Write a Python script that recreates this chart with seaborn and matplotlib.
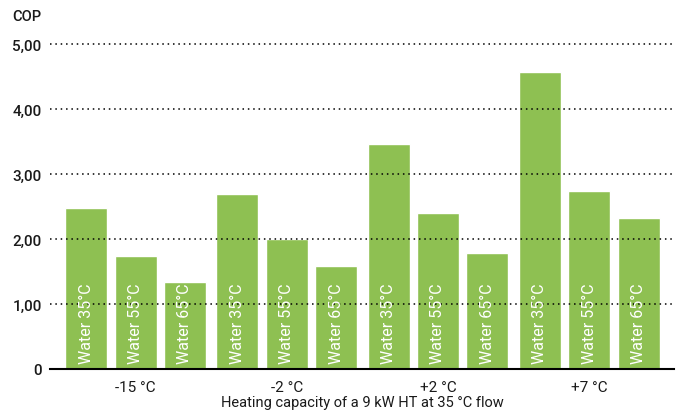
import matplotlib
matplotlib.use('Agg')
import matplotlib.pyplot as plt
import seaborn as sns
import pandas as pd

# outdoor temperatures (x groups) and water flow temperatures (hue)
temps = ['-15 °C', '-2 °C', '+2 °C', '+7 °C']
water = ['Water 35°C', 'Water 55°C', 'Water 65°C']
cop_35 = [2.48, 2.69, 3.46, 4.57]
cop_55 = [1.74, 2.00, 2.40, 2.74]
cop_65 = [1.34, 1.58, 1.78, 2.32]
y_ticks = [0, 1, 2, 3, 4, 5]
y_labels = ['0', '1,00', '2,00', '3,00', '4,00', '5,00']

bar_color = '#8EC052'
text_color = '#1a1a1a'

df = pd.DataFrame({
    'temp': temps * 3,
    'water': [water[0]] * 4 + [water[1]] * 4 + [water[2]] * 4,
    'cop': cop_35 + cop_55 + cop_65,
})

sns.set_style('white')
plt.rcParams['font.family'] = ['Roboto', 'DejaVu Sans']

fig = plt.figure(figsize=(6.81, 4.14), dpi=100)
ax = fig.add_axes([50 / 681, 1 - 370 / 414, 624 / 681, 325 / 414])

sns.barplot(data=df, x='temp', y='cop', hue='water', order=temps, hue_order=water,
            palette=[bar_color] * 3, width=0.98, gap=0.15, legend=False,
            saturation=1, ax=ax, zorder=2)

# white rotated labels inside the bars
for container, label in zip(ax.containers, water):
    for bar in container:
        ax.text(bar.get_x() + bar.get_width() / 2, 0.09, label, rotation=90,
                ha='center', va='bottom', color='white', fontsize=11.5, zorder=4)

ax.set_ylim(0, 5)
ax.set_xlim(-0.566, 3.561)
ax.set_yticks(y_ticks)
ax.set_yticklabels(y_labels)
# dotted grid drawn over the bars
for t in y_ticks[1:]:
    ax.axhline(t, color='black', linestyle=(0, (1, 2.5)), linewidth=1.1, zorder=3, clip_on=False)

for side in ['top', 'right', 'left']:
    ax.spines[side].set_visible(False)
ax.spines['bottom'].set_color('black')
ax.spines['bottom'].set_linewidth(1.5)
ax.spines['bottom'].set_zorder(5)

ax.tick_params(axis='both', length=0, labelsize=11, colors=text_color)
ax.tick_params(axis='y', pad=6)
ax.tick_params(axis='x', pad=8)
for lbl in ax.get_yticklabels():
    lbl.set_fontweight('medium')

ax.set_ylabel('')
ax.set_xlabel('Heating capacity of a 9 kW HT at 35 °C flow', fontsize=10.5, color=text_color, labelpad=1)
fig.text(12 / 681, 1 - 17 / 414, 'COP', fontsize=10.5, color=text_color, va='center', ha='left',
         fontweight='medium')

plt.savefig('out.png', dpi=100)
